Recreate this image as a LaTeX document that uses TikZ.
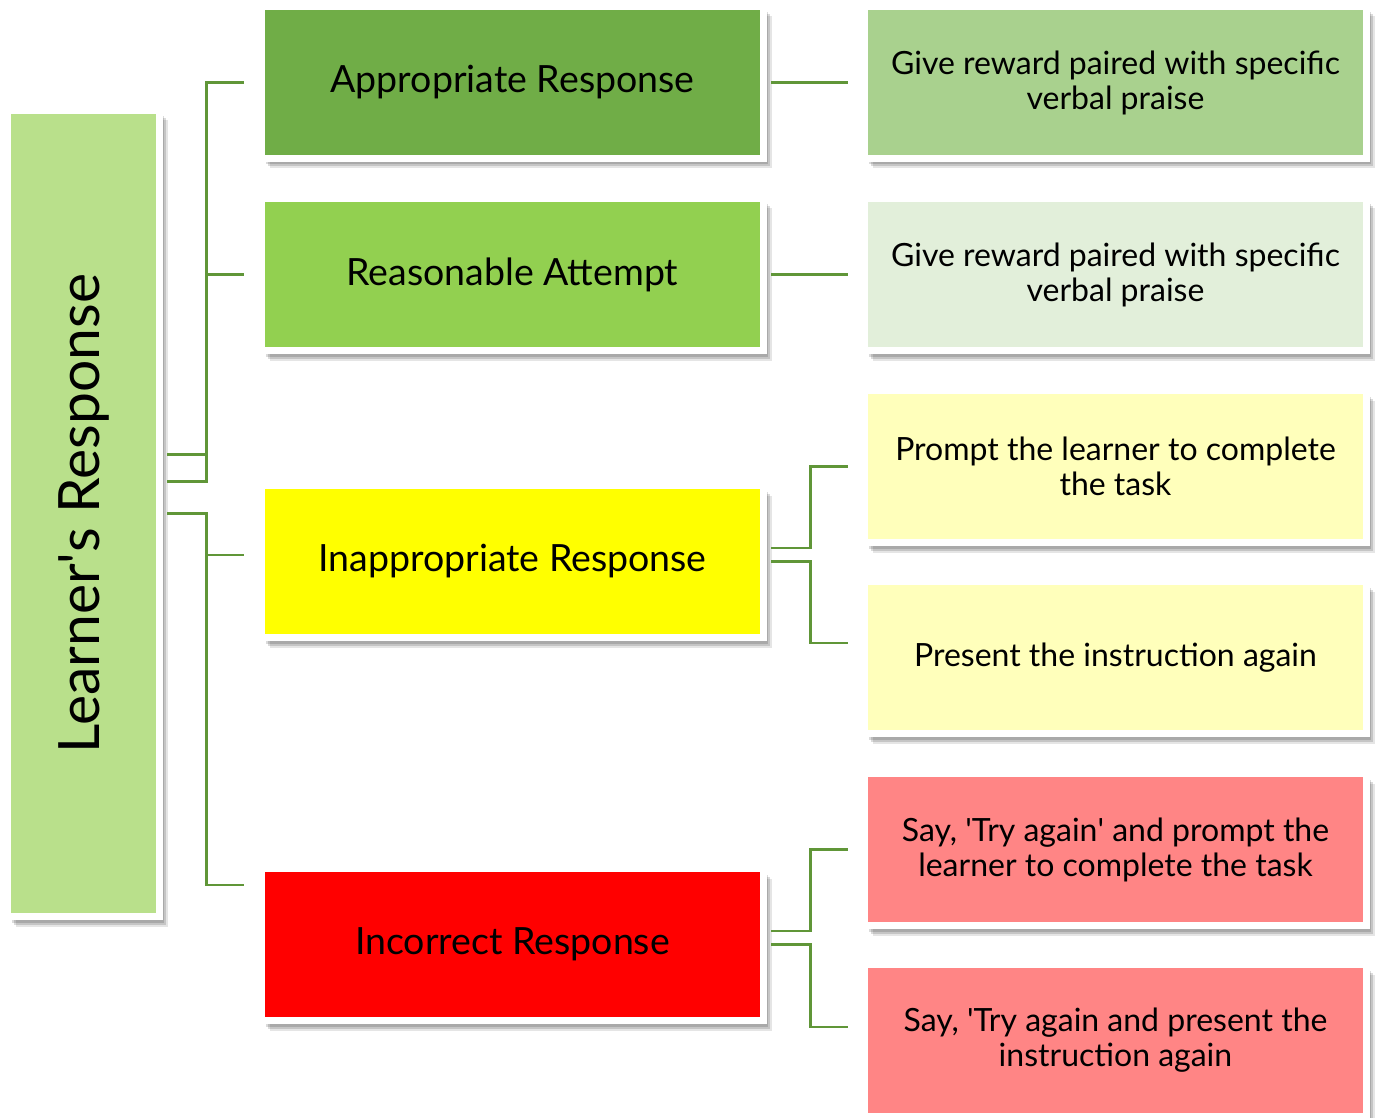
\documentclass[tikz,border=0pt]{standalone}
\usepackage{fontspec}
\setmainfont{Lato}
\usepackage{graphicx}
\usetikzlibrary{shadows}

\definecolor{rootgreen}{RGB}{185,224,139}
\definecolor{okgreen}{RGB}{112,173,71}
\definecolor{trygreen}{RGB}{146,208,80}
\definecolor{badyellow}{RGB}{255,255,0}
\definecolor{wrongred}{RGB}{255,0,0}
\definecolor{paleA}{RGB}{169,209,142}
\definecolor{paleB}{RGB}{226,239,218}
\definecolor{paleY}{RGB}{255,255,187}
\definecolor{paleR}{RGB}{255,133,133}
\definecolor{linkgreen}{RGB}{96,150,56}

\begin{document}
\begin{tikzpicture}[x=1pt,y=-1pt,every node/.style={inner sep=0pt,align=center,text=black},
    softshadow/.style={general shadow={fill=black,opacity=.14,shadow xshift=4pt,shadow yshift=-6pt},
      general shadow={fill=black,opacity=.14,shadow xshift=6pt,shadow yshift=-8pt},
      general shadow={fill=black,opacity=.10,shadow xshift=8pt,shadow yshift=-10pt}},
    box/.style={draw=white,line width=7pt,minimum width=502pt,minimum height=152pt,softshadow},
    mid/.style={box,font=\fontsize{37.5}{44}\selectfont},
    act/.style={box,font=\fontsize{32}{35}\selectfont},
    link/.style={draw=linkgreen,line width=2.5pt}]
  \useasboundingbox (0,0) rectangle (1377,1118);
  \node[box,minimum width=152pt,minimum height=806pt,fill=rootgreen,font=\fontsize{57}{64}\selectfont]
    (L) at (83.5,513.5) {\rotatebox{90}{Learner\textquotesingle s Response}};
  \node[mid,fill=okgreen] (A) at (512.5,82.5) {Appropriate Response};
  \node[mid,fill=trygreen] (R) at (512.5,274.5) {Reasonable Attempt};
  \node[mid,fill=badyellow] (I) at (512.5,561.5) {Inappropriate Response};
  \node[mid,fill=wrongred] (C) at (512.5,944.5) {Incorrect Response};
  \node[act,fill=paleA] (A1) at (1115.5,82.5) {Give reward paired with specific\\verbal praise};
  \node[act,fill=paleB] (R1) at (1115.5,274.5) {Give reward paired with specific\\verbal praise};
  \node[act,fill=paleY] (I1) at (1115.5,466.5) {Prompt the learner to complete\\the task};
  \node[act,fill=paleY] (I2) at (1115.5,657.5) {Present the instruction again};
  \node[act,fill=paleR] (C1) at (1115.5,849.5) {Say, \textquotesingle Try again\textquotesingle{} and prompt the\\learner to complete the task};
  \node[act,fill=paleR] (C2) at (1115.5,1040.5) {Say, \textquotesingle Try again and present the\\instruction again};
  % root to responses
  \draw[link] ([xshift=4pt,yshift=59pt]L.east) -- ++(39.5,0) |- ([xshift=-14pt]A.west);
  \draw[link] ([xshift=4pt,yshift=32pt]L.east) -- ++(39.5,0) |- ([xshift=-14pt]R.west);
  \draw[link] ([xshift=4pt]L.east) -- ++(39.5,0) |- ([xshift=-14pt,yshift=6.5pt]I.west);
  \draw[link] ([xshift=4pt]L.east) -- ++(39.5,0) |- ([xshift=-14pt,yshift=59.5pt]C.west);
  % responses to actions
  \foreach \a/\b in {A/A1,R/R1} {\draw[link] ([xshift=4pt]\a.east) -- ([xshift=-13pt]\b.west);}
  \draw[link] ([xshift=4pt,yshift=13.5pt]I.east) -- ++(39.5,0) |- ([xshift=-13pt]I1.west);
  \draw[link] ([xshift=4pt]I.east) -- ++(39.5,0) |- ([xshift=-13pt,yshift=14.5pt]I2.west);
  \draw[link] ([xshift=4pt,yshift=13.5pt]C.east) -- ++(39.5,0) |- ([xshift=-13pt]C1.west);
  \draw[link] ([xshift=4pt]C.east) -- ++(39.5,0) |- ([xshift=-13pt,yshift=13.5pt]C2.west);
\end{tikzpicture}
\end{document}
